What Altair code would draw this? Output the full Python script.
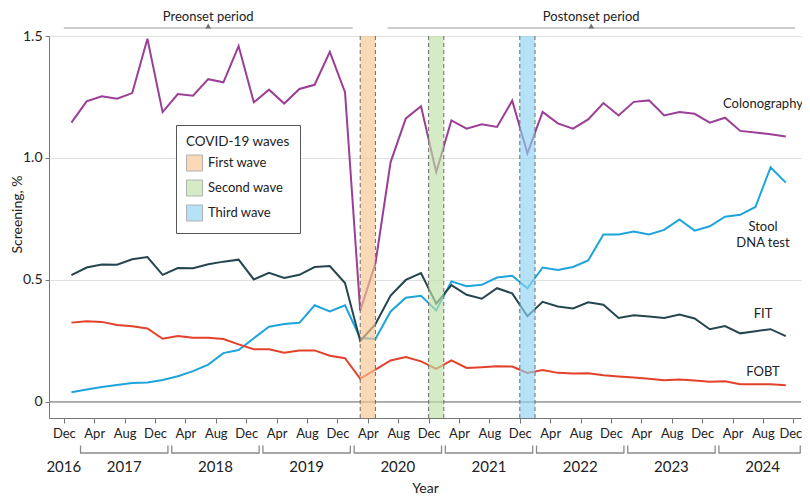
import altair as alt
import pandas as pd

# ---------------- data ----------------
periods = [f"{y}-{m:02d}" for y in range(2017, 2025) for m in (1, 3, 5, 7, 9, 11)]

colonography = [1.145, 1.232, 1.253, 1.243, 1.266, 1.489, 1.188, 1.262, 1.255, 1.323,
                1.310, 1.459, 1.228, 1.280, 1.223, 1.283, 1.300, 1.435, 1.270, 0.374,
                0.567, 0.983, 1.162, 1.212, 0.942, 1.154, 1.120, 1.138, 1.127, 1.235,
                1.019, 1.189, 1.142, 1.120, 1.158, 1.225, 1.174, 1.230, 1.236, 1.174,
                1.188, 1.181, 1.145, 1.165, 1.111, 1.104, 1.097, 1.088]
stool_dna = [0.040, 0.051, 0.061, 0.069, 0.077, 0.080, 0.090, 0.105, 0.126, 0.153,
             0.200, 0.213, 0.261, 0.308, 0.319, 0.324, 0.396, 0.371, 0.396, 0.262,
             0.258, 0.371, 0.427, 0.435, 0.375, 0.494, 0.474, 0.480, 0.510, 0.517,
             0.466, 0.551, 0.541, 0.553, 0.580, 0.686, 0.686, 0.698, 0.686, 0.705,
             0.748, 0.702, 0.720, 0.759, 0.767, 0.799, 0.962, 0.899]
fit = [0.520, 0.551, 0.563, 0.562, 0.585, 0.594, 0.521, 0.549, 0.548, 0.564,
       0.575, 0.583, 0.502, 0.529, 0.508, 0.521, 0.553, 0.557, 0.487, 0.250,
       0.319, 0.436, 0.500, 0.528, 0.403, 0.479, 0.439, 0.423, 0.466, 0.445,
       0.351, 0.410, 0.391, 0.383, 0.408, 0.398, 0.344, 0.355, 0.350, 0.344,
       0.358, 0.342, 0.298, 0.311, 0.281, 0.290, 0.298, 0.270]
fobt = [0.325, 0.331, 0.328, 0.315, 0.310, 0.301, 0.259, 0.270, 0.263, 0.263,
        0.258, 0.236, 0.216, 0.216, 0.202, 0.211, 0.211, 0.189, 0.179, 0.095,
        0.132, 0.170, 0.184, 0.166, 0.135, 0.170, 0.139, 0.142, 0.146, 0.145,
        0.119, 0.131, 0.119, 0.116, 0.117, 0.109, 0.104, 0.100, 0.095, 0.089,
        0.092, 0.088, 0.083, 0.085, 0.072, 0.072, 0.072, 0.068]

series_names = ["Colonography", "Stool DNA test", "FIT", "FOBT"]
series_colors = ["#9b3f96", "#1ea4dc", "#254650", "#e2412b"]

wave_names = ["First wave", "Second wave", "Third wave"]
wave_start = ["2020-03", "2020-12", "2021-12"]
wave_end = ["2020-05", "2021-02", "2022-02"]
wave_colors = ["#f8c48f", "#bfe0a8", "#8fd3f2"]

label_texts = ["Colonography", "Stool", "DNA test", "FIT", "FOBT"]
label_values = [1.223, 0.715, 0.650, 0.359, 0.121]
label_period = "2024-08"

period_names = ["Preonset period", "Postonset period"]
period_start = [0.0, 42.6]
period_end = [38.0, 96.2]

years = list(range(2016, 2025))

X_MIN, X_MAX = -1.95, 97.0


def month_index(p):
    y, m = p.split("-")
    return (int(y) - 2016) * 12 + int(m) - 12


rows = []
for name, vals in zip(series_names, [colonography, stool_dna, fit, fobt]):
    for p, v in zip(periods, vals):
        rows.append({"series": name, "m": month_index(p), "v": v})
df = pd.DataFrame(rows)

waves = pd.DataFrame({
    "wave": wave_names,
    "s": [month_index(p) for p in wave_start],
    "e": [month_index(p) for p in wave_end],
})
edges = pd.DataFrame({"m": list(waves["s"]) + list(waves["e"])})

labels = pd.DataFrame({"t": label_texts, "v": label_values,
                       "m": [month_index(label_period)] * len(label_texts)})

pdf = pd.DataFrame({"name": period_names, "s": period_start, "e": period_end})
pdf["mid"] = (pdf["s"] + pdf["e"]) / 2

ydf = pd.DataFrame({"year": [str(y) for y in years]})
ydf["s"] = [12 * (y - 2017) + 2.2 for y in years]
ydf["e"] = [min(s + 11.5, X_MAX - 0.1) for s in ydf["s"]]
ydf["c"] = [0.0 if y == 2016 else 12 * (y - 2017) + 7.95 for y in years]
brk = ydf[ydf["year"] != "2016"]
brk_ends = pd.DataFrame({"m": list(brk["s"]) + list(brk["e"])})

# ---------------- scales / axes ----------------
FONT = "Lato"
xscale = alt.Scale(domain=[X_MIN, X_MAX], nice=False, zero=False)
yscale = alt.Scale(domain=[-0.066, 1.5], nice=False, zero=False)

xaxis = alt.Axis(
    values=list(range(0, 97, 4)),
    labelExpr="datum.value % 12 == 0 ? 'Dec' : (datum.value % 12 == 4 ? 'Apr' : 'Aug')",
    labelOffset={"condition": {"test": "datum.value >= 96", "value": -3}, "value": 0},
    title="Year", grid=False, tickSize=5, tickColor="#777", domainColor="#777",
    labelFontSize=13, labelPadding=4, labelColor="#222", labelFlush=False,
    titleFontSize=14, titleFontWeight="normal", titleColor="#222",
    titleY=70, titleBaseline="middle",
)
yaxis = alt.Axis(
    values=[0, 0.5, 1.0, 1.5],
    labelExpr="datum.value == 0 ? '0' : format(datum.value, '.1f')",
    title="Screening, %", grid=True, gridColor="#e0e0e0", tickSize=4,
    tickColor="#777", domainColor="#777", labelFontSize=14, labelPadding=3,
    labelColor="#222", titleFontSize=14, titleFontWeight="normal",
    titleColor="#222", titleX=-32, titleY=178, titleBaseline="middle",
)


def X(f):
    return alt.X(f, type="quantitative", scale=xscale, axis=xaxis)


def Y(f):
    return alt.Y(f, type="quantitative", scale=yscale, axis=yaxis)


lines = alt.Chart(df).mark_line(strokeWidth=2).encode(
    x=X("m"), y=Y("v"),
    color=alt.Color("series:N", scale=alt.Scale(domain=series_names, range=series_colors),
                    legend=None),
)

zero = alt.Chart(pd.DataFrame({"v": [0]})).mark_rule(color="#8a8a8a", strokeWidth=1.2).encode(
    y=Y("v"))

bands = alt.Chart(waves).mark_rect(opacity=0.65).encode(
    x=X("s"), x2="e",
    color=alt.Color("wave:N", scale=alt.Scale(domain=wave_names, range=wave_colors),
                    legend=alt.Legend(
                        title="COVID-19 waves", orient="none", legendX=127, legendY=89,
                        symbolType="square", symbolSize=256, symbolStrokeColor="#888",
                        symbolStrokeWidth=1, fillColor="white", strokeColor="#555",
                        padding=10, titleFontSize=13.5, titleFontWeight="normal",
                        titleColor="#222", labelFontSize=13, labelColor="#222",
                        rowPadding=4, titlePadding=6, labelOffset=5)),
)

dashes = alt.Chart(edges).mark_rule(color="#6b6b6b", strokeDash=[4, 3], strokeWidth=1).encode(
    x=X("m"))

texts = alt.Chart(labels).mark_text(fontSize=13, color="#222", align="center",
                                    baseline="middle").encode(
    x=X("m"), y=Y("v"), text="t:N")

p_rule = alt.Chart(pdf).mark_rule(color="#9a9a9a", strokeWidth=1.2).encode(
    x=X("s"), x2="e", y=alt.value(-8))
p_tri = alt.Chart(pdf).mark_point(shape="triangle-up", filled=True, size=32,
                                  color="#707070", opacity=1).encode(
    x=X("mid"), y=alt.value(-10))
p_txt = alt.Chart(pdf).mark_text(fontSize=13, color="#222", baseline="middle").encode(
    x=X("mid"), y=alt.value(-19), text="name:N")

b_h = alt.Chart(brk).mark_rule(color="#8a8a8a", strokeWidth=1.3).encode(
    x=X("s"), x2="e", y=alt.value(417))
b_v = alt.Chart(brk_ends).mark_rule(color="#8a8a8a", strokeWidth=1.3).encode(
    x=X("m"), y=alt.value(409.5), y2=alt.value(417.6))
y_txt = alt.Chart(ydf).mark_text(fontSize=15, color="#222", baseline="middle").encode(
    x=X("c"), y=alt.value(431), text="year:N")

chart = alt.layer(
    lines, zero, bands, dashes, texts, p_rule, p_tri, p_txt, b_h, b_v, y_txt
).resolve_scale(color="independent").properties(
    width=752, height=382,
    autosize=alt.AutoSizeParams(type="none"),
    padding={"left": 41, "top": 28, "right": 1, "bottom": 77},
    background="white",
).configure(font=FONT).configure_view(stroke=None)

chart.save("out.html", embed_options={"renderer": "svg", "actions": False})
